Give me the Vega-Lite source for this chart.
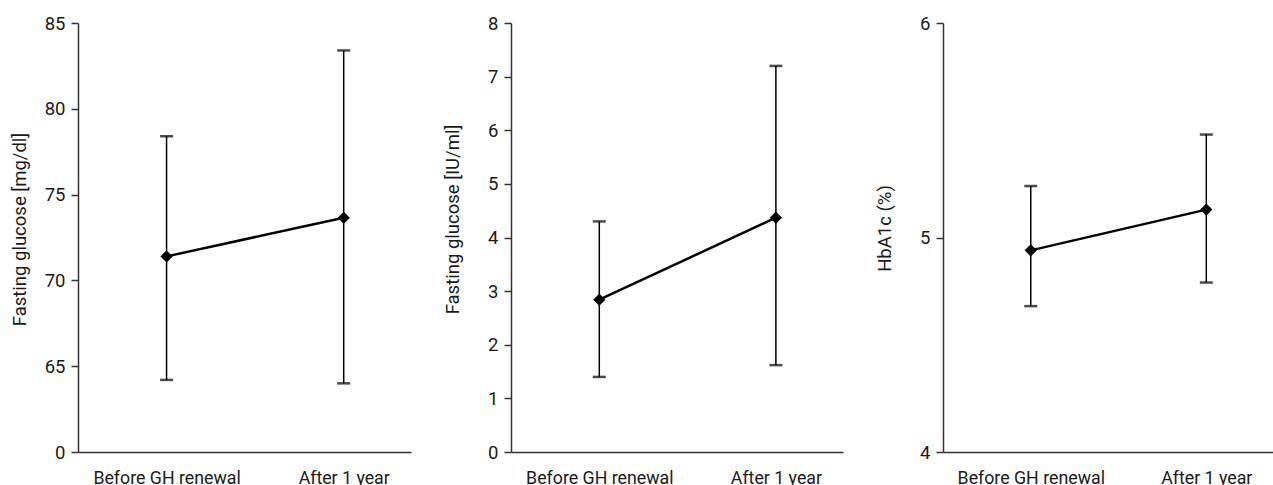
{
  "$schema": "https://vega.github.io/schema/vega-lite/v6.json",
  "padding": {"left": 10, "top": 14, "right": 0, "bottom": 0},
  "background": "white",
  "bounds": "flush",
  "spacing": 100,
  "data": {
    "values": [
      {"panel": "glucose", "x": 1, "time": "Before GH renewal", "mean": 71.4, "lo": 64.2, "hi": 78.4},
      {"panel": "glucose", "x": 2, "time": "After 1 year", "mean": 73.65, "lo": 64.0, "hi": 83.4},
      {"panel": "insulin", "x": 1, "time": "Before GH renewal", "mean": 2.84, "lo": 1.4, "hi": 4.3},
      {"panel": "insulin", "x": 2, "time": "After 1 year", "mean": 4.37, "lo": 1.62, "hi": 7.2},
      {"panel": "hba1c", "x": 1, "time": "Before GH renewal", "mean": 4.94, "lo": 4.68, "hi": 5.24},
      {"panel": "hba1c", "x": 2, "time": "After 1 year", "mean": 5.13, "lo": 4.79, "hi": 5.48}
    ]
  },
  "config": {
    "view": {"stroke": null},
    "font": "Roboto",
    "axis": {
      "grid": false,
      "domainColor": "#333333",
      "domainWidth": 1.5,
      "tickColor": "#333333",
      "tickWidth": 1.5,
      "labelColor": "#1a1a1a",
      "titleColor": "#1a1a1a",
      "labelFont": "Roboto",
      "titleFont": "Roboto",
      "titleFontWeight": "normal",
      "labelOverlap": false
    },
    "axisX": {
      "ticks": false,
      "labelFontSize": 17.75,
      "labelPadding": 17,
      "labelFlush": false,
      "title": null
    },
    "axisY": {
      "tickSize": 7,
      "labelFontSize": 18.5,
      "labelPadding": 6,
      "titleFontSize": 18.5,
      "titleX": -49
    }
  },
  "hconcat": [
    {
      "width": 333,
      "height": 429,
      "transform": [{"filter": "datum.panel == 'glucose'"}],
      "encoding": {
        "x": {"field": "x", "type": "quantitative", "scale": {"domain": [0.5, 2.38]},
              "axis": {"values": [1, 2], "labelExpr": "datum.value == 1 ? 'Before GH renewal' : 'After 1 year'"}}
      },
      "layer": [
        {"mark": {"type": "rule", "color": "black", "strokeWidth": 1.5},
         "encoding": {"y": {"field": "lo", "type": "quantitative", "scale": {"domain": [60, 85], "nice": false, "zero": false},
                            "axis": {"values": [60, 65, 70, 75, 80, 85], "labelExpr": "datum.value == 60 ? '0' : datum.label", "title": "Fasting glucose [mg/dl]", "titleY": 206}},
                      "y2": {"field": "hi"}}},
        {"mark": {"type": "tick", "orient": "horizontal", "color": "black", "size": 13, "thickness": 2.5},
         "encoding": {"y": {"field": "lo", "type": "quantitative"}}},
        {"mark": {"type": "tick", "orient": "horizontal", "color": "black", "size": 13, "thickness": 2.5},
         "encoding": {"y": {"field": "hi", "type": "quantitative"}}},
        {"mark": {"type": "line", "color": "black", "strokeWidth": 2.5},
         "encoding": {"y": {"field": "mean", "type": "quantitative"}}},
        {"mark": {"type": "point", "shape": "diamond", "filled": true, "color": "black", "opacity": 1, "size": 150},
         "encoding": {"y": {"field": "mean", "type": "quantitative"}}}
      ]
    },
    {
      "width": 332,
      "height": 429,
      "transform": [{"filter": "datum.panel == 'insulin'"}],
      "encoding": {
        "x": {"field": "x", "type": "quantitative", "scale": {"domain": [0.5, 2.38]},
              "axis": {"values": [1, 2], "labelExpr": "datum.value == 1 ? 'Before GH renewal' : 'After 1 year'"}}
      },
      "layer": [
        {"mark": {"type": "rule", "color": "black", "strokeWidth": 1.5},
         "encoding": {"y": {"field": "lo", "type": "quantitative", "scale": {"domain": [0, 8], "nice": false},
                            "axis": {"values": [0, 1, 2, 3, 4, 5, 6, 7, 8], "labelExpr": "'' + datum.value", "title": "Fasting glucose [IU/ml]", "titleY": 196}},
                      "y2": {"field": "hi"}}},
        {"mark": {"type": "tick", "orient": "horizontal", "color": "black", "size": 13, "thickness": 2.5},
         "encoding": {"y": {"field": "lo", "type": "quantitative"}}},
        {"mark": {"type": "tick", "orient": "horizontal", "color": "black", "size": 13, "thickness": 2.5},
         "encoding": {"y": {"field": "hi", "type": "quantitative"}}},
        {"mark": {"type": "line", "color": "black", "strokeWidth": 2.5},
         "encoding": {"y": {"field": "mean", "type": "quantitative"}}},
        {"mark": {"type": "point", "shape": "diamond", "filled": true, "color": "black", "opacity": 1, "size": 150},
         "encoding": {"y": {"field": "mean", "type": "quantitative"}}}
      ]
    },
    {
      "width": 330,
      "height": 429,
      "transform": [{"filter": "datum.panel == 'hba1c'"}],
      "encoding": {
        "x": {"field": "x", "type": "quantitative", "scale": {"domain": [0.5, 2.38]},
              "axis": {"values": [1, 2], "labelExpr": "datum.value == 1 ? 'Before GH renewal' : 'After 1 year'"}}
      },
      "layer": [
        {"mark": {"type": "rule", "color": "black", "strokeWidth": 1.5},
         "encoding": {"y": {"field": "lo", "type": "quantitative", "scale": {"domain": [4, 6], "nice": false, "zero": false},
                            "axis": {"values": [4, 5, 6], "labelExpr": "'' + datum.value", "title": "HbA1c (%)", "titleY": 205}},
                      "y2": {"field": "hi"}}},
        {"mark": {"type": "tick", "orient": "horizontal", "color": "black", "size": 13, "thickness": 2.5},
         "encoding": {"y": {"field": "lo", "type": "quantitative"}}},
        {"mark": {"type": "tick", "orient": "horizontal", "color": "black", "size": 13, "thickness": 2.5},
         "encoding": {"y": {"field": "hi", "type": "quantitative"}}},
        {"mark": {"type": "line", "color": "black", "strokeWidth": 2.5},
         "encoding": {"y": {"field": "mean", "type": "quantitative"}}},
        {"mark": {"type": "point", "shape": "diamond", "filled": true, "color": "black", "opacity": 1, "size": 150},
         "encoding": {"y": {"field": "mean", "type": "quantitative"}}}
      ]
    }
  ]
}
